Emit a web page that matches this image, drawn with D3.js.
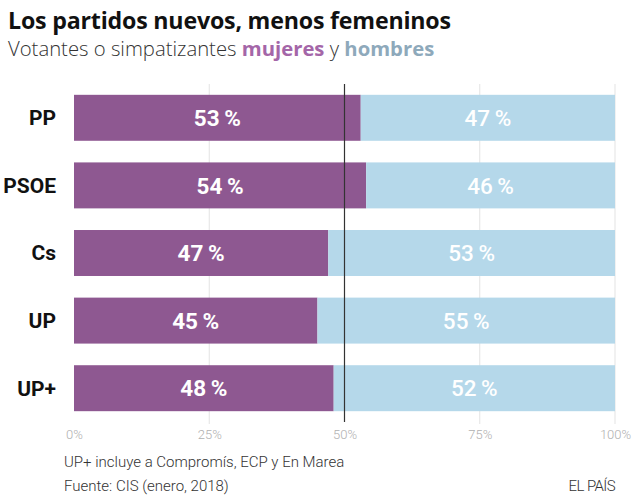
<!DOCTYPE html>
<html><head><meta charset="utf-8">
<script src="https://cdn.jsdelivr.net/npm/d3@7"></script>
<style>body{margin:0;background:#fff}svg{display:block;font-family:Roboto,"Noto Sans",sans-serif}</style>
</head><body>
<svg id="c" width="640" height="503"></svg>
<script>
const categories = ["PP","PSOE","Cs","UP","UP+"];
const mujeres = [53,54,47,45,48];
const hombres = [47,46,53,55,52];
const ticks = [0,25,50,75,100];

const svg = d3.select("#c");
const x = d3.scaleLinear().domain([0,100]).range([74,615]);
const y = d3.scaleBand().domain(categories).range([84,422]).paddingInner(0.32).paddingOuter(0.16);

svg.append("text").attr("x",8).attr("y",29).attr("font-size",23.2).attr("font-weight",700).attr("fill","#111")
  .attr("font-family","'Open Sans',sans-serif").attr("letter-spacing",-0.2)
  .text("Los partidos nuevos, menos femeninos");
const sub = svg.append("text").attr("x",8).attr("y",56).attr("font-size",20.3).attr("font-weight",300).attr("fill","#333")
  .attr("font-family","'Open Sans',sans-serif");
sub.append("tspan").text("Votantes o simpatizantes ");
sub.append("tspan").attr("font-weight",700).attr("fill","#A466A8").text("mujeres");
sub.append("tspan").text(" y ");
sub.append("tspan").attr("font-weight",700).attr("fill","#8EA9BB").text("hombres");

// gridlines
svg.append("g").selectAll("line").data([25,75,100]).join("line")
  .attr("x1",d=>x(d)).attr("x2",d=>x(d)).attr("y1",84).attr("y2",424)
  .attr("stroke","#e3e3e3").attr("stroke-width",1);

const rows = svg.append("g").selectAll("g").data(categories).join("g");
rows.append("rect").attr("x",x(0)).attr("y",d=>y(d)).attr("height",y.bandwidth())
  .attr("width",(d,i)=>x(mujeres[i])-x(0)).attr("fill","#8E5891");
rows.append("rect").attr("x",(d,i)=>x(mujeres[i])).attr("y",d=>y(d)).attr("height",y.bandwidth())
  .attr("width",(d,i)=>x(100)-x(mujeres[i])).attr("fill","#B5D8EA");
rows.append("text").attr("x",x(0)-18).attr("y",d=>y(d)+y.bandwidth()/2).attr("dy","0.35em")
  .attr("text-anchor","end").attr("font-size",21).attr("font-weight",700).attr("fill","#111").text(d=>d);
rows.append("text").attr("x",(d,i)=>x(mujeres[i]/2)).attr("y",d=>y(d)+y.bandwidth()/2).attr("dy","0.36em")
  .attr("text-anchor","middle").attr("font-size",22.5).attr("font-weight",700).attr("fill","#fff")
  .text((d,i)=>mujeres[i]+"\u2009%");
rows.append("text").attr("x",(d,i)=>x(mujeres[i]+hombres[i]/2)).attr("y",d=>y(d)+y.bandwidth()/2).attr("dy","0.36em")
  .attr("text-anchor","middle").attr("font-size",22.5).attr("font-weight",500).attr("fill","#fff")
  .text((d,i)=>hombres[i]+"\u2009%");

// 50% line
svg.append("line").attr("x1",x(50)).attr("x2",x(50)).attr("y1",84).attr("y2",422)
  .attr("stroke","#333").attr("stroke-width",1.2);

// axis
const ax = svg.append("g").attr("transform","translate(0,424)")
  .call(d3.axisBottom(x).tickValues(ticks).tickSize(0).tickPadding(6).tickFormat(d=>d+"%"));
ax.select(".domain").remove();
ax.selectAll("text").attr("font-size",13).attr("font-weight",300).attr("fill","#b0b0b0").attr("font-family","Roboto,sans-serif");

svg.append("text").attr("x",64).attr("y",467).attr("font-size",15).attr("font-weight",300).attr("fill","#333")
  .text("UP+ incluye a Compromís, ECP y En Marea");
svg.append("text").attr("x",64).attr("y",491).attr("font-size",15).attr("font-weight",300).attr("fill","#333")
  .text("Fuente: CIS (enero, 2018)");
svg.append("text").attr("x",615).attr("y",491).attr("text-anchor","end").attr("font-size",15).attr("font-weight",300).attr("fill","#333")
  .attr("letter-spacing",-0.6).text("EL PAÍS");
</script>
</body></html>
